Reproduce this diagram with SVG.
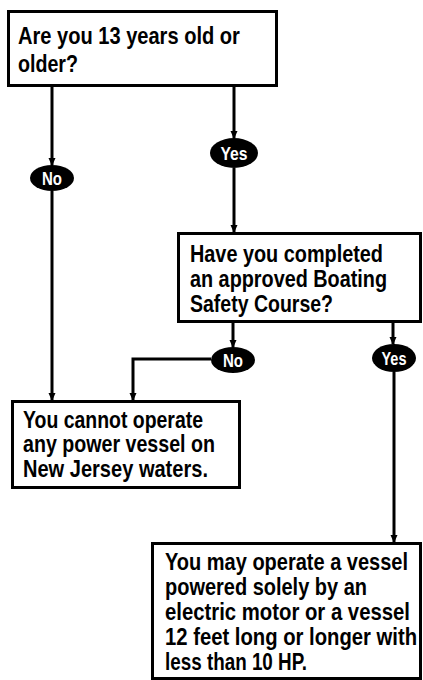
<svg xmlns="http://www.w3.org/2000/svg" width="423" height="680" viewBox="0 0 423 680">
<style>
.box{fill:#fff;stroke:#000;stroke-width:3}
.t{font-family:"Liberation Sans",Arial,sans-serif;font-weight:bold;font-size:23px;fill:#000}
.badge{fill:#000}
.bt{font-family:"Liberation Sans",Arial,sans-serif;font-weight:bold;font-size:19px;fill:#fff;text-anchor:middle}
.c{fill:none;stroke:#000;stroke-width:3}
</style>
<defs>
<marker id="ah" viewBox="0 0 8 8" refX="7" refY="4" markerWidth="8" markerHeight="8" markerUnits="userSpaceOnUse" orient="auto">
<path d="M0,0.5 L8,4 L0,7.5 Z" fill="#000"/>
</marker>
</defs>
<rect width="423" height="680" fill="#fff"/>
<g id="connectors">
<line class="c" x1="52" y1="86" x2="52" y2="165" marker-end="url(#ah)"/>
<line class="c" x1="52" y1="191" x2="52" y2="400" marker-end="url(#ah)"/>
<line class="c" x1="234" y1="86" x2="234" y2="138" marker-end="url(#ah)"/>
<line class="c" x1="234" y1="168" x2="234" y2="232" marker-end="url(#ah)"/>
<line class="c" x1="233" y1="323" x2="233" y2="347" marker-end="url(#ah)"/>
<path class="c" d="M211,359 H133 V400" marker-end="url(#ah)"/>
<line class="c" x1="393" y1="323" x2="393" y2="344" marker-end="url(#ah)"/>
<line class="c" x1="394" y1="372" x2="394" y2="542" marker-end="url(#ah)"/>
</g>
<g id="q1">
<rect class="box" x="8.5" y="11.5" width="268" height="74"/>
<g transform="translate(18,0) scale(0.85,1)">
<text class="t" x="0" y="44" textLength="261" lengthAdjust="spacingAndGlyphs">Are you 13 years old or</text>
<text class="t" x="0" y="72" textLength="70.6" lengthAdjust="spacingAndGlyphs">older?</text>
</g>
</g>
<g id="no1">
<ellipse class="badge" cx="52" cy="178" rx="22" ry="13"/>
<text class="bt" x="52" y="185" textLength="20" lengthAdjust="spacingAndGlyphs">No</text>
</g>
<g id="yes1">
<ellipse class="badge" cx="234" cy="153" rx="24" ry="15"/>
<text class="bt" x="234" y="160" textLength="27" lengthAdjust="spacingAndGlyphs">Yes</text>
</g>
<g id="q2">
<rect class="box" x="178.5" y="233.5" width="242" height="88"/>
<g transform="translate(190,0) scale(0.85,1)">
<text class="t" x="0" y="262" textLength="227" lengthAdjust="spacingAndGlyphs">Have you completed</text>
<text class="t" x="0" y="287" textLength="231.8" lengthAdjust="spacingAndGlyphs">an approved Boating</text>
<text class="t" x="0" y="312" textLength="168.2" lengthAdjust="spacingAndGlyphs">Safety Course?</text>
</g>
</g>
<g id="no2">
<ellipse class="badge" cx="233" cy="360" rx="22" ry="13"/>
<text class="bt" x="233" y="367" textLength="20" lengthAdjust="spacingAndGlyphs">No</text>
</g>
<g id="yes2">
<ellipse class="badge" cx="394" cy="358" rx="22" ry="14"/>
<text class="bt" x="394" y="365" textLength="25" lengthAdjust="spacingAndGlyphs">Yes</text>
</g>
<g id="r1">
<rect class="box" x="12.5" y="401.5" width="227" height="86"/>
<g transform="translate(23,0) scale(0.85,1)">
<text class="t" x="0" y="428" textLength="211.8" lengthAdjust="spacingAndGlyphs">You cannot operate</text>
<text class="t" x="0" y="452" textLength="225.9" lengthAdjust="spacingAndGlyphs">any power vessel on</text>
<text class="t" x="0" y="477" textLength="217.6" lengthAdjust="spacingAndGlyphs">New Jersey waters.</text>
</g>
</g>
<g id="r2">
<rect class="box" x="152.5" y="543.5" width="268" height="135"/>
<g transform="translate(165,0) scale(0.85,1)">
<text class="t" x="0" y="570" textLength="285.9" lengthAdjust="spacingAndGlyphs">You may operate a vessel</text>
<text class="t" x="0" y="595" textLength="237.6" lengthAdjust="spacingAndGlyphs">powered solely by an</text>
<text class="t" x="0" y="620" textLength="288.2" lengthAdjust="spacingAndGlyphs">electric motor or a vessel</text>
<text class="t" x="0" y="645" textLength="296.5" lengthAdjust="spacingAndGlyphs">12 feet long or longer with</text>
<text class="t" x="0" y="670" textLength="167.1" lengthAdjust="spacingAndGlyphs">less than 10 HP.</text>
</g>
</g>
</svg>
